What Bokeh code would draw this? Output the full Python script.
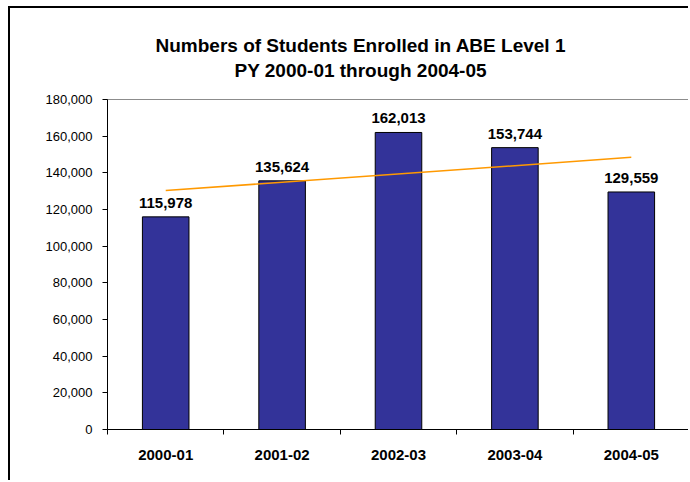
import numpy as np
from bokeh.plotting import figure
from bokeh.models import (Range1d, FixedTicker, SingleIntervalTicker, NumeralTickFormatter,
                          ColumnDataSource, LabelSet, Title)
from bokeh.core.properties import value
from bokeh.embed import file_html
from bokeh.resources import INLINE

# ---- data ----
categories = ["2000-01", "2001-02", "2002-03", "2003-04", "2004-05"]
enrolled = [115978, 135624, 162013, 153744, 129559]
title_line1 = "Numbers of Students Enrolled in ABE Level 1"
title_line2 = "PY 2000-01 through 2004-05"

FONT = "Liberation Sans"
xs = list(range(len(categories)))

p = figure(width=680, height=474, output_backend="svg", toolbar_location=None,
           x_range=Range1d(-0.5, len(categories) - 0.5), y_range=Range1d(0, 180000),
           min_border_left=97, min_border_right=1, min_border_bottom=53, min_border_top=91,
           title=None)
p.margin = (6, 0, 0, 8)
p.styles = {"border-left": "2px solid black", "border-top": "2px solid black"}

# titles (added inner first)
spacer = Title(text=" ", text_font=FONT, text_font_size="1px", standoff=15)
t2 = Title(text=title_line2, text_font=FONT, text_font_size="19px", text_font_style="bold",
           align="left", offset=127, text_color="black", standoff=2)
t1 = Title(text=title_line1, text_font=FONT, text_font_size="19px", text_font_style="bold",
           align="left", offset=48, text_color="black", standoff=2)
p.add_layout(spacer, "above")
p.add_layout(t2, "above")
p.add_layout(t1, "above")

src = ColumnDataSource(dict(x=xs, top=enrolled, label=[f"{v:,}" for v in enrolled]))
p.vbar(x="x", top="top", width=0.4, source=src, fill_color="#333399", line_color="black",
       line_width=1)

# linear trendline (least squares fit, as in the original)
coef = np.polyfit(xs, enrolled, 1)
tx = [xs[0], xs[-1]]
ty = list(np.polyval(coef, tx))
p.line(tx, ty, line_color="#FF9900", line_width=1.5)

labels = LabelSet(x="x", y="top", text="label", source=src, y_offset=9,
                  text_align="center", text_baseline="bottom", text_font=value(FONT),
                  text_font_size="15px", text_font_style="bold", text_color="black")
p.add_layout(labels)

p.xgrid.visible = False
p.ygrid.visible = False
p.outline_line_color = "#8c8c8c"
p.outline_line_width = 1
p.background_fill_color = "white"
p.border_fill_color = "white"

# x axis
xa = p.xaxis[0]
xa.ticker = FixedTicker(ticks=xs, minor_ticks=[i - 0.5 for i in range(len(categories) + 1)])
xa.major_label_overrides = {i: c for i, c in enumerate(categories)}
xa.major_tick_line_color = None
xa.minor_tick_line_color = "black"
xa.minor_tick_in = 0
xa.minor_tick_out = 5
xa.axis_line_color = "black"
xa.major_label_text_font = FONT
xa.major_label_text_font_size = "15px"
xa.major_label_text_font_style = "bold"
xa.major_label_text_color = "black"
xa.major_label_standoff = 14

# y axis
ya = p.yaxis[0]
ya.ticker = SingleIntervalTicker(interval=20000, num_minor_ticks=0)
ya.formatter = NumeralTickFormatter(format="0,0")
ya.minor_tick_line_color = None
ya.major_tick_in = 0
ya.major_tick_out = 5
ya.major_tick_line_color = "black"
ya.axis_line_color = "black"
ya.major_label_text_font = FONT
ya.major_label_text_font_size = "13px"
ya.major_label_text_color = "black"
ya.major_label_standoff = 10

open("out.html", "w").write(file_html(p, INLINE))
